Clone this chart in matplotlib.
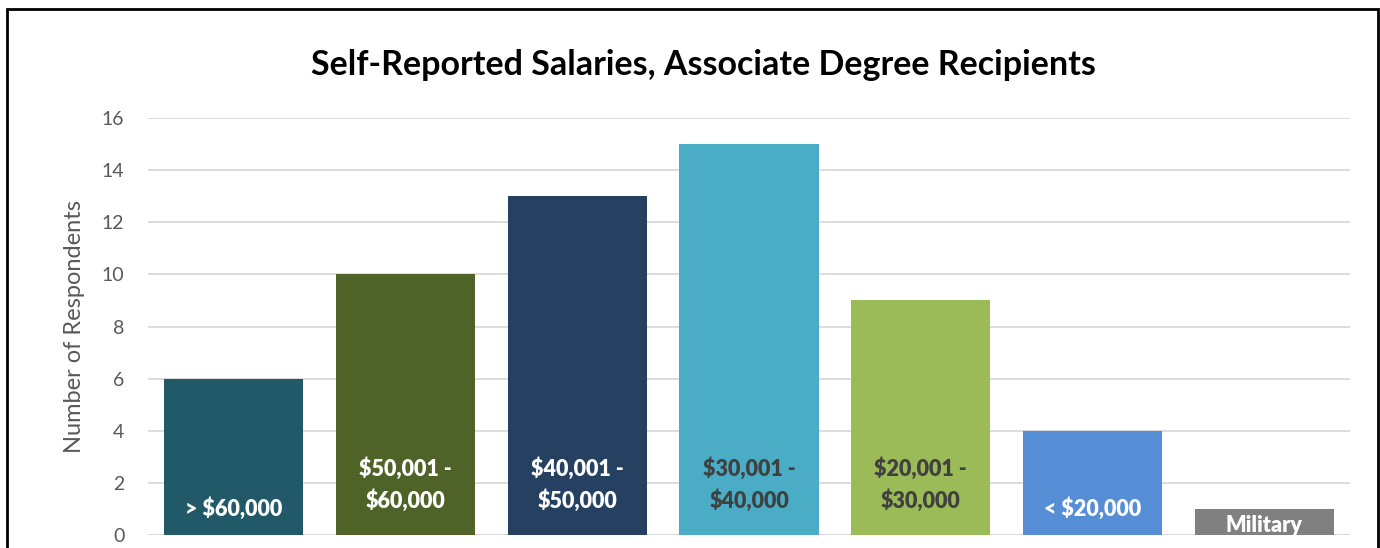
import matplotlib.pyplot as plt
from matplotlib.patches import Rectangle

categories = ['> $60,000', '$50,001 -\n$60,000', '$40,001 -\n$50,000', '$30,001 -\n$40,000',
              '$20,001 -\n$30,000', '< $20,000', 'Military']
values = [6, 10, 13, 15, 9, 4, 1]
colors = ['#215968', '#4F6228', '#254061', '#4BACC6', '#9BBB59', '#558ED5', '#808080']
text_colors = ['white', 'white', 'white', '#404040', '#404040', 'white', 'white']

plt.rcParams['font.family'] = ['Lato', 'DejaVu Sans']

fig = plt.figure(figsize=(13.8, 5.48), dpi=100)
ax = fig.add_axes([148 / 1380, 1 - 535 / 548, 1202 / 1380, 417 / 548])

x = range(len(values))
ax.bar(x, values, width=0.81, color=colors, zorder=3)

ax.set_xlim(-0.5, len(values) - 0.5)
ax.set_ylim(0, 16)
ax.set_yticks(range(0, 17, 2))
ax.set_xticks([])
ax.grid(axis='y', color='#D9D9D9', linewidth=1.3, zorder=0)
for s in ax.spines.values():
    s.set_visible(False)
ax.axhline(0, color='#D9D9D9', linewidth=1.3, zorder=1)
ax.tick_params(axis='y', length=0, pad=17, labelsize=14, labelcolor='#595959')
ax.set_ylabel('Number of Respondents', fontsize=17, color='#595959', labelpad=12)

# labels at the base of each bar
px_per_unit = 417 / 16
for i, (lab, v) in enumerate(zip(categories, values)):
    nlines = lab.count('\n') + 1
    off = 26 if nlines == 1 else 50
    if v * px_per_unit < 2 * off:
        off = v * px_per_unit / 2 * 0.72
    ax.annotate(lab, (i, 0), xytext=(0, off * 0.72), textcoords='offset points',
                ha='center', va='center', fontsize=15.5, fontweight='heavy',
                color=text_colors[i], linespacing=1.5, zorder=4)

fig.text(703 / 1380, 1 - 65 / 548, 'Self-Reported Salaries, Associate Degree Recipients',
         ha='center', va='center', fontsize=24.5, fontweight='bold', color='black')

fig.patches.append(Rectangle((7 / 1380, -0.1), 1371 / 1380, 1.1 - 9 / 548,
                             transform=fig.transFigure, fill=False,
                             edgecolor='black', linewidth=2))

fig.savefig('out.png', dpi=100)
